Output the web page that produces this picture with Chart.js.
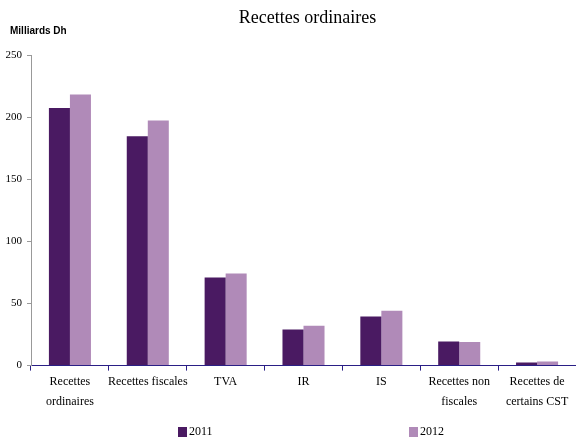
<!DOCTYPE html>
<html>
<head>
<meta charset="utf-8">
<script src="https://cdn.jsdelivr.net/npm/chart.js@4/dist/chart.umd.min.js"></script>
<style>
  html, body { margin: 0; padding: 0; background: #ffffff; }
  #wrap { position: relative; width: 576px; height: 444px; }
</style>
</head>
<body>
<div id="wrap"><canvas id="c" width="576" height="444"></canvas></div>
<script>
const categories = [
  ["Recettes", "ordinaires"],
  "Recettes fiscales",
  "TVA",
  "IR",
  "IS",
  ["Recettes non", "fiscales"],
  ["Recettes de", "certains CST"]
];
const seriesNames = ["2011", "2012"];
const values2011 = [207.3, 184.7, 71.0, 29.0, 39.5, 19.4, 2.4];
const values2012 = [218.3, 197.3, 74.2, 32.0, 44.1, 18.9, 3.2];
const yTicks = [0, 50, 100, 150, 200, 250];
const titleText = "Recettes ordinaires";
const unitText = "Milliards Dh";

const colors = ["#4a1a62", "#b08ab8"];
const serif = "'Liberation Serif', 'Times New Roman', serif";

const decorPlugin = {
  id: 'decor',
  afterDraw(chart) {
    const ctx = chart.ctx;
    const ca = chart.chartArea;
    ctx.save();
    // title
    ctx.fillStyle = '#000';
    ctx.font = "18px " + serif;
    ctx.textAlign = 'center';
    ctx.textBaseline = 'middle';
    ctx.fillText(titleText, (ca.left + ca.right) / 2 + 4, 18);
    // unit label
    ctx.font = "bold 10px 'Liberation Sans Narrow', 'Liberation Sans', Arial, sans-serif";
    ctx.textAlign = 'left';
    ctx.fillText(unitText, 10, 31);
    // legend
    const legendX = [178, 409];
    ctx.font = "12px " + serif;
    chart.data.datasets.forEach((ds, i) => {
      ctx.fillStyle = ds.backgroundColor;
      ctx.fillRect(legendX[i], 427, 9, 10);
      ctx.fillStyle = '#000';
      ctx.textBaseline = 'middle';
      ctx.fillText(ds.label, legendX[i] + 11, 432);
    });
    ctx.restore();
  }
};

new Chart(document.getElementById('c'), {
  type: 'bar',
  data: {
    labels: categories,
    datasets: [
      { label: seriesNames[0], data: values2011, backgroundColor: colors[0] },
      { label: seriesNames[1], data: values2012, backgroundColor: colors[1] }
    ]
  },
  options: {
    responsive: false,
    animation: false,
    devicePixelRatio: 1,
    layout: { padding: { top: 55, bottom: 31, left: 0, right: 0 } },
    datasets: { bar: { categoryPercentage: 0.54, barPercentage: 1.0 } },
    plugins: {
      legend: { display: false },
      title: { display: false },
      tooltip: { enabled: false }
    },
    scales: {
      x: {
        grid: { display: true, drawOnChartArea: false, drawTicks: true, tickLength: 5, color: '#2a1f86', offset: true },
        border: { display: true, color: '#2a1f86', width: 1 },
        ticks: { color: '#000', font: { family: serif, size: 12, lineHeight: 1.6 }, padding: 2, maxRotation: 0, autoSkip: false }
      },
      y: {
        min: 0, max: 250,
        afterFit(scale) { scale.width = 31; },
        afterBuildTicks(scale) { scale.ticks = yTicks.map(v => ({ value: v })); },
        grid: { display: true, drawOnChartArea: false, drawTicks: true, tickLength: 4, color: '#999999' },
        border: { display: true, color: '#999999', width: 1 },
        ticks: { color: '#000', font: { family: serif, size: 11 }, padding: 5 }
      }
    }
  },
  plugins: [decorPlugin]
});
</script>
</body>
</html>
